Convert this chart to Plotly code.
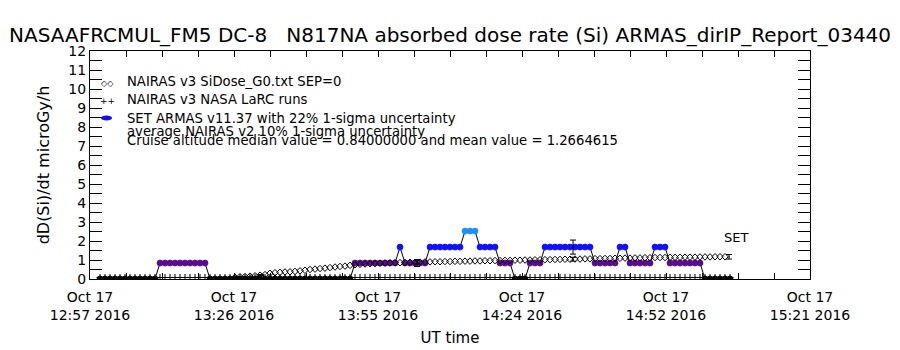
import pandas as pd
import plotly.graph_objects as go

# ---------------- data ----------------
start = pd.Timestamp("2016-10-17 12:57:40")
span_min = 144.0

# SET ARMAS dose rate, 1-min cadence from minute 2 after start
armas_first_min = 2
armas_dose = [
    0, 0, 0, 0, 0, 0, 0, 0, 0, 0, 0, 0,
    0.84, 0.84, 0.84, 0.84, 0.84, 0.84, 0.84, 0.84, 0.84, 0.84,
    0, 0, 0, 0, 0, 0, 0, 0, 0, 0, 0, 0, 0, 0, 0, 0, 0, 0, 0, 0,
    0, 0, 0, 0, 0, 0, 0, 0, 0,
    0.84, 0.84, 0.84, 0.84, 0.84, 0.84, 0.84, 0.84, 0.84,
    1.68,
    0.84, 0.84, 0.84, 0.84, 0.84,
    1.68, 1.68, 1.68, 1.68, 1.68, 1.68, 1.68,
    2.52, 2.52, 2.52,
    1.68, 1.68, 1.68, 1.68,
    0.84, 0.84, 0.84,
    0, 0, 0,
    0.84, 0.84, 0.84,
    1.68, 1.68, 1.68, 1.68, 1.68, 1.68, 1.68, 1.68, 1.68, 1.68,
    0.84, 0.84, 0.84, 0.84, 0.84,
    1.68, 1.68,
    0.84, 0.84, 0.84, 0.84, 0.84,
    1.68, 1.68, 1.68,
    0.84, 0.84, 0.84, 0.84, 0.84, 0.84, 0.84,
    0, 0, 0, 0, 0, 0,
]

# NAIRAS v3 SiDose_G0 (SEP=0), 1-min cadence from minute 29
nairas_first_min = 29
nairas_dose = [
    0.10, 0.12, 0.13, 0.15, 0.17, 0.20, 0.23, 0.30, 0.33, 0.35,
    0.37, 0.38, 0.40, 0.43, 0.46, 0.50, 0.52, 0.55, 0.57, 0.60,
    0.63, 0.66, 0.68, 0.72, 0.75, 0.77, 0.79, 0.80, 0.81, 0.83,
    0.84, 0.85, 0.86, 0.86, 0.87, 0.88, 0.88, 0.89, 0.90, 0.90,
    0.91, 0.91, 0.92, 0.92, 0.93, 0.93, 0.94, 0.94, 0.95, 0.95,
    0.96, 0.96, 0.97, 0.97, 0.98, 0.98, 0.99, 0.99, 1.00, 1.00,
    1.01, 1.01, 1.02, 1.02, 1.03, 1.03, 1.04, 1.04, 1.05, 1.05,
    1.06, 1.06, 1.07, 1.07, 1.08, 1.08, 1.09, 1.09, 1.10, 1.10,
    1.11, 1.11, 1.12, 1.12, 1.13, 1.13, 1.13, 1.14, 1.14, 1.14,
    1.15, 1.15, 1.15, 1.16, 1.16, 1.16, 1.17, 1.17, 1.17,
]

# NAIRAS v3 NASA LaRC runs, 1-min cadence from minute 2
larc_first_min = 2
larc_dose = [
    0.08, 0.08, 0.08, 0.08, 0.08, 0.08, 0.08, 0.08, 0.08, 0.08,
    0.08, 0.08, 0.08, 0.08, 0.08, 0.08, 0.08, 0.08, 0.08, 0.08,
    0.08, 0.08, 0.08, 0.08, 0.08, 0.08, 0.08, 0.08, 0.08, 0.08,
    0.08, 0.08, 0.08, 0.08, 0.08, 0.08, 0.08, 0.08, 0.08, 0.08,
    0.08, 0.08, 0.08, 0.08, 0.08, 0.08, 0.08, 0.08, 0.08, 0.08,
    0.08, 0.08, 0.08, 0.08, 0.08, 0.08, 0.08, 0.08, 0.08, 0.08,
    0.08, 0.08, 0.08, 0.08, 0.08, 0.08, 0.08, 0.08, 0.08, 0.08,
    0.08, 0.08, 0.08, 0.08, 0.08, 0.08, 0.08, 0.08, 0.08, 0.08,
    0.08, 0.08, 0.08, 0.08, 0.08, 0.08, 0.08, 0.08, 0.08, 0.08,
    0.08, 0.08, 0.08, 0.08, 0.08, 0.08, 0.08, 0.08, 0.08, 0.08,
    0.08, 0.08, 0.08, 0.08, 0.08, 0.08, 0.08, 0.08, 0.08, 0.08,
    0.08, 0.08, 0.08, 0.08, 0.08, 0.08, 0.08, 0.08, 0.08, 0.08,
    0.08, 0.08, 0.08, 0.08, 0.08, 0.08, 0.08,
]

# error bar samples (minutes after start)
err_min = [34.2, 65.4, 96.6, 127.8]
armas_err_val = [0.0, 0.84, 1.68, 0.0]
armas_err = [0.0, 0.18, 0.37, 0.0]
nairas_v2_val = [0.21, 0.89, 1.04, 1.17]
nairas_v2_err = [0.02, 0.09, 0.10, 0.12]

ytick_labels = ["0", "1", "2", "3", "4", "5", "6", "7", "8", "9", "10", "11", "12"]
xtick_labels = ["Oct 17<br>12:57 2016", "Oct 17<br>13:26 2016", "Oct 17<br>13:55 2016",
                "Oct 17<br>14:24 2016", "Oct 17<br>14:52 2016", "Oct 17<br>15:21 2016"]

title_text = "NASAAFRCMUL_FM5 DC-8\u00a0\u00a0\u00a0N817NA absorbed dose rate (Si) ARMAS_dirIP_Report_03440"
legend_lines = [
    "NAIRAS v3 SiDose_G0.txt SEP=0",
    "NAIRAS v3 NASA LaRC runs",
    "SET ARMAS v11.37 with 22% 1-sigma uncertainty",
    "average NAIRAS v2 10% 1-sigma uncertainty",
    "Cruise altitude median value = 0.84000000 and mean value = 1.2664615",
]

# ---------------- helpers ----------------
def t_of(first, n):
    return [start + pd.Timedelta(minutes=first + i) for i in range(n)]

def t_list(mins):
    return [start + pd.Timedelta(minutes=m) for m in mins]

PURPLE = "#5c0b8f"
BLUE = "#1010ff"
LIGHT = "#1e8fff"

def armas_color(v):
    if v < 0.4:
        return "black"
    if v < 1.2:
        return PURPLE
    if v < 2.0:
        return BLUE
    return LIGHT

FONT = "DejaVu Sans"

fig = go.Figure()

armas_colors = [armas_color(v) for v in armas_dose]
fig.add_trace(go.Scatter(
    x=t_of(armas_first_min, len(armas_dose)), y=armas_dose,
    mode="lines+markers",
    line=dict(color="black", width=1),
    marker=dict(color=armas_colors, size=6, symbol="circle",
                line=dict(width=0.8, color=armas_colors)),
))

fig.add_trace(go.Scatter(
    x=t_of(nairas_first_min, len(nairas_dose)), y=nairas_dose,
    mode="markers",
    marker=dict(symbol="diamond-open", size=5, color="black", line=dict(width=1, color="black")),
))

fig.add_trace(go.Scatter(
    x=t_of(larc_first_min, len(larc_dose)), y=larc_dose,
    mode="markers",
    marker=dict(symbol="cross-thin", size=5, color="black", line=dict(width=1, color="black")),
))

fig.add_trace(go.Scatter(
    x=t_list(err_min), y=armas_err_val, mode="markers",
    marker=dict(size=1, color="black"),
    error_y=dict(type="data", array=armas_err, color="black", thickness=1, width=3),
))
fig.add_trace(go.Scatter(
    x=t_list(err_min), y=nairas_v2_val, mode="markers",
    marker=dict(size=1, color="black"),
    error_y=dict(type="data", array=nairas_v2_err, color="black", thickness=1, width=3),
))

# ---------------- axes ----------------
x_tick_step = span_min / 20.0
x_tickvals = [start + pd.Timedelta(minutes=k * x_tick_step) for k in range(21)]
x_ticktext = [xtick_labels[k // 4] if k % 4 == 0 else "" for k in range(21)]

y_tickvals = [k * 0.5 for k in range(25)]
y_ticktext = [ytick_labels[k // 2] if k % 2 == 0 else "" for k in range(25)]

fig.update_xaxes(
    range=[start, start + pd.Timedelta(minutes=span_min)],
    tickmode="array", tickvals=x_tickvals, ticktext=x_ticktext,
    ticks="inside", ticklen=6, tickcolor="black", tickwidth=1,
    showline=True, linecolor="black", linewidth=1, mirror="ticks",
    showgrid=False, zeroline=False, automargin=False,
    ticklabelstandoff=5,
    tickfont=dict(family=FONT, size=14, color="black"),
    title=dict(text="UT time", font=dict(family=FONT, size=15, color="black"), standoff=10),
)
fig.update_yaxes(
    range=[0, 12],
    tickmode="array", tickvals=y_tickvals, ticktext=y_ticktext,
    ticks="inside", ticklen=12, tickcolor="black", tickwidth=1,
    showline=True, linecolor="black", linewidth=1, mirror="ticks",
    showgrid=False, zeroline=False, automargin=False,
    tickfont=dict(family=FONT, size=14, color="black"),
    title=dict(text="dD(Si)/dt microGy/h", font=dict(family=FONT, size=16, color="black"), standoff=14),
)

# ---------------- annotations ----------------
ann = []
ann.append(dict(text=title_text, xref="paper", yref="paper", x=0.5, y=1 + 16 / 228,
                xanchor="center", yanchor="middle", showarrow=False,
                font=dict(family=FONT, size=20, color="black")))
leg_y_px = [81.7, 99.3, 118.3, 131.7, 140.5]
for txt, ypx in zip(legend_lines, leg_y_px):
    ann.append(dict(text=txt, xref="paper", yref="paper", x=(125 - 90) / 720,
                    y=(279 - ypx) / 228, xanchor="left", yanchor="middle", showarrow=False,
                    font=dict(family=FONT, size=13.2, color="black")))
ann.append(dict(text="\u25c7\u25c7", xref="paper", yref="paper", x=(107 - 90) / 720,
                y=(279 - 83) / 228, xanchor="center", yanchor="middle", showarrow=False,
                font=dict(family=FONT, size=8, color="black")))
ann.append(dict(text="++", xref="paper", yref="paper", x=(107 - 90) / 720,
                y=(279 - 101) / 228, xanchor="center", yanchor="middle", showarrow=False,
                font=dict(family=FONT, size=9, color="black")))
ann.append(dict(text="SET", xref="paper", yref="paper", x=(736 - 90) / 720,
                y=(279 - 237) / 228, xanchor="center", yanchor="middle", showarrow=False,
                font=dict(family=FONT, size=13, color="black")))

shapes = [dict(type="circle", xref="paper", yref="paper",
               x0=(101 - 90) / 720, x1=(112 - 90) / 720,
               y0=(279 - 120.5) / 228, y1=(279 - 115.5) / 228,
               fillcolor=BLUE, line=dict(width=0))]

fig.update_layout(
    width=900, height=350,
    margin=dict(l=90, r=90, t=51, b=71),
    plot_bgcolor="white", paper_bgcolor="white",
    showlegend=False,
    font=dict(family=FONT, color="black"),
    annotations=ann, shapes=shapes,
)

fig.write_html("out.html")
